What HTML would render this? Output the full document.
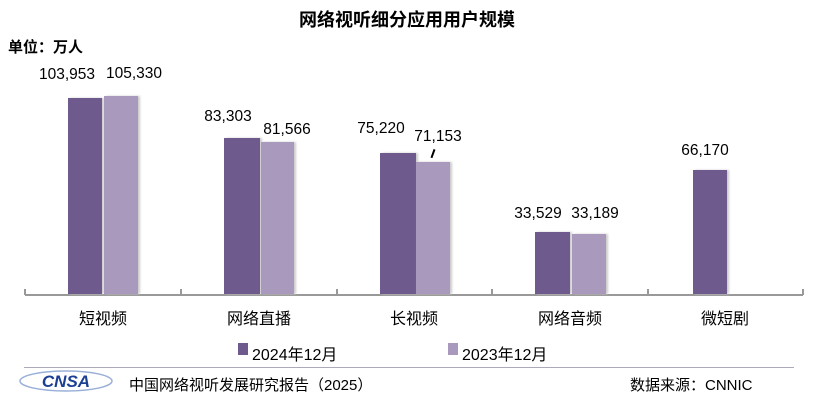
<!DOCTYPE html>
<html><head><meta charset="utf-8"><style>
body{margin:0;width:814px;height:402px;background:#fff;position:relative;overflow:hidden;font-family:"Liberation Sans","Noto Sans CJK SC",sans-serif;color:#000}
.a{position:absolute;white-space:nowrap}
.d{position:absolute;background:#6f5a8e;box-shadow:2px 0 2px #ccc}
.l{position:absolute;background:#a899bd;box-shadow:2px 0 2px #ccc}
.v{position:absolute;font-size:15.5px;line-height:15px;transform:translateX(-50%)}
.c{position:absolute;font-size:16px;line-height:16px;top:312px;transform:translateX(-50%)}
.t{position:absolute;width:2px;height:6px;background:#999;top:289px}
</style></head><body>
<div class="a" style="left:0;width:814px;text-align:center;top:6px;font-size:18px;font-weight:bold">网络视听细分应用用户规模</div>
<div class="a" style="left:8px;top:36px;font-size:15px;font-weight:bold">单位：万人</div>
<div class="a" style="left:25px;top:294px;width:778px;height:2px;background:#999"></div>
<div class="t" style="left:24px"></div><div class="t" style="left:180px"></div><div class="t" style="left:336px"></div><div class="t" style="left:491px"></div><div class="t" style="left:647px"></div><div class="t" style="left:802px"></div>

<div class="d" style="left:68px;top:98px;width:34px;height:196px"></div>
<div class="l" style="left:104px;top:96px;width:34px;height:198px"></div>
<div class="d" style="left:224px;top:138px;width:36px;height:156px"></div>
<div class="l" style="left:261px;top:142px;width:33px;height:152px"></div>
<div class="d" style="left:380px;top:153px;width:36px;height:141px"></div>
<div class="l" style="left:416px;top:162px;width:34px;height:132px"></div>
<div class="d" style="left:535px;top:232px;width:35px;height:62px"></div>
<div class="l" style="left:572px;top:234px;width:34px;height:60px"></div>
<div class="d" style="left:693px;top:170px;width:34px;height:124px"></div>

<div class="v" style="left:67px;top:67px">103,953</div>
<div class="v" style="left:134px;top:66px">105,330</div>
<div class="v" style="left:228px;top:109px">83,303</div>
<div class="v" style="left:287px;top:122px">81,566</div>
<div class="v" style="left:381px;top:121px">75,220</div>
<div class="v" style="left:438px;top:129px">71,153</div>
<div class="a" style="left:432px;top:149px;width:1.5px;height:9px;background:#000;transform:rotate(20deg)"></div>
<div class="v" style="left:538px;top:206px">33,529</div>
<div class="v" style="left:595px;top:206px">33,189</div>
<div class="v" style="left:705px;top:143px">66,170</div>

<div class="c" style="left:103px">短视频</div>
<div class="c" style="left:259px">网络直播</div>
<div class="c" style="left:414px">长视频</div>
<div class="c" style="left:570px">网络音频</div>
<div class="c" style="left:725px">微短剧</div>

<div class="a" style="left:238px;top:343px;width:10px;height:12px;background:#6f5a8e"></div>
<div class="a" style="left:252px;top:341px;font-size:16px">2024年12月</div>
<div class="a" style="left:448px;top:343px;width:10px;height:12px;background:#a899bd"></div>
<div class="a" style="left:462px;top:341px;font-size:16px">2023年12月</div>

<div class="a" style="left:24px;top:367px;width:770px;height:1px;background:#aab"></div>
<svg class="a" style="left:18px;top:370px" width="96" height="22"><ellipse cx="48" cy="11" rx="46" ry="10" fill="none" stroke="#9ab0d8" stroke-width="1.5"/><text x="48" y="17" text-anchor="middle" font-family="Liberation Sans" font-weight="bold" font-size="17" fill="#1b3f93" font-style="italic">CNSA</text></svg>
<div class="a" style="left:129px;top:374px;font-size:15px">中国网络视听发展研究报告（2025）</div>
<div class="a" style="left:630px;top:374px;font-size:15px">数据来源：CNNIC</div>
</body></html>
